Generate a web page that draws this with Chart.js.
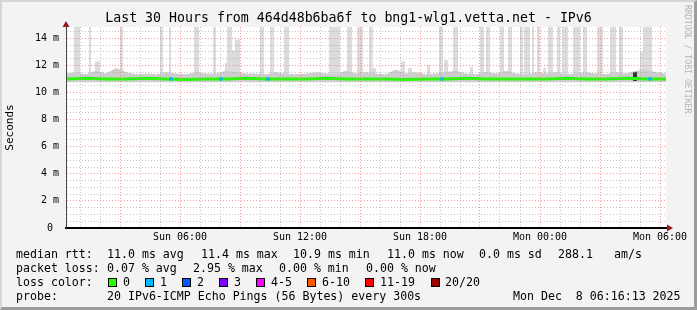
<!DOCTYPE html>
<html lang="en">
<head>
<meta charset="UTF-8">
<title>SmokePing - bng1-wlg1.vetta.net IPv6</title>
<script src="https://cdn.jsdelivr.net/npm/chart.js"></script>
<style>
  body { margin: 0; background: #f3f3f3; }
  #wrap { position: relative; width: 697px; height: 310px; background: #f3f3f3; overflow: hidden;
          font-family: 'DejaVu Sans Mono', monospace; }
  #wrap canvas { position: absolute; left: 0; top: 0; }
  .frame { position: absolute; left: 0; top: 0; width: 697px; height: 310px; box-sizing: border-box;
           border-top: 2px solid #d6d6d6; border-left: 2px solid #d6d6d6;
           border-right: 3px solid #9c9c9c; border-bottom: 3px solid #9c9c9c; pointer-events: none; }
  .lg { position: absolute; font-size: 11.6px; line-height: 14px; color: #000; white-space: pre; }
  .box { position: absolute; top: 278px; width: 7px; height: 7px; border: 1px solid #000; }
  .mark { position: absolute; left: 684px; top: 5px; writing-mode: vertical-rl; font-size: 8.2px;
          line-height: 8px; color: #b4b4b4; white-space: pre; }
</style>
</head>
<body>
<div id="wrap">
  <canvas id="rtt" width="697" height="310"></canvas>

  <div class="lg" style="left:16px;top:247px">median rtt:</div>
  <div class="lg" style="left:107px;top:247px">11.0 ms avg</div>
  <div class="lg" style="left:201px;top:247px">11.4 ms max</div>
  <div class="lg" style="left:293px;top:247px">10.9 ms min</div>
  <div class="lg" style="left:387px;top:247px">11.0 ms now</div>
  <div class="lg" style="left:479px;top:247px">0.0 ms sd</div>
  <div class="lg" style="left:558px;top:247px">288.1</div>
  <div class="lg" style="left:614px;top:247px">am/s</div>

  <div class="lg" style="left:16px;top:261px">packet loss:</div>
  <div class="lg" style="left:107px;top:261px">0.07 % avg</div>
  <div class="lg" style="left:193px;top:261px">2.95 % max</div>
  <div class="lg" style="left:279px;top:261px">0.00 % min</div>
  <div class="lg" style="left:366px;top:261px">0.00 % now</div>

  <div class="lg" style="left:16px;top:275px">loss color:</div>
  <div class="box" style="left:108px;background:#26ff00"></div>
  <div class="lg" style="left:123px;top:275px">0</div>
  <div class="box" style="left:145px;background:#00b8ff"></div>
  <div class="lg" style="left:160px;top:275px">1</div>
  <div class="box" style="left:182px;background:#0059ff"></div>
  <div class="lg" style="left:197px;top:275px">2</div>
  <div class="box" style="left:219px;background:#7e00ff"></div>
  <div class="lg" style="left:234px;top:275px">3</div>
  <div class="box" style="left:256px;background:#ff00ff"></div>
  <div class="lg" style="left:271px;top:275px">4-5</div>
  <div class="box" style="left:307px;background:#ff5500"></div>
  <div class="lg" style="left:322px;top:275px">6-10</div>
  <div class="box" style="left:365px;background:#ff0000"></div>
  <div class="lg" style="left:380px;top:275px">11-19</div>
  <div class="box" style="left:431px;background:#a10000"></div>
  <div class="lg" style="left:445px;top:275px">20/20</div>

  <div class="lg" style="left:16px;top:289px">probe:</div>
  <div class="lg" style="left:107px;top:289px">20 IPv6-ICMP Echo Pings (56 Bytes) every 300s</div>
  <div class="lg" style="left:513px;top:289px">Mon Dec  8 06:16:13 2025</div>

  <div class="mark">RRDTOOL / TOBI OETIKER</div>
  <div class="frame"></div>
</div>

<script>
  // time axis in hours since Sun 00:00
  const startHour = 0.3;
  const endHour = 30.3;
  const xTickHours = [6, 12, 18, 24, 30];
  const xTickLabels = ['Sun 06:00', 'Sun 12:00', 'Sun 18:00', 'Mon 00:00', 'Mon 06:00'];
  const yTickValues = [0, 2, 4, 6, 8, 10, 12, 14];
  const yTickLabels = ['0 ', '2 m', '4 m', '6 m', '8 m', '10 m', '12 m', '14 m'];
  const yMax = 14.83;

  // smoke outliers: grey columns (hours from, hours to, top in ms)
  const spikeFrom = [0.70, 1.45, 1.75, 3.00, 5.00, 5.45, 6.70, 7.65, 8.25, 8.35, 8.60, 8.75, 10.00, 10.50, 11.20,
                     13.45, 14.35, 14.85, 15.45, 15.60, 17.05, 17.40, 18.35, 18.95, 19.20, 19.65, 20.50, 21.00, 21.30,
                     22.00, 22.40, 23.00, 23.20, 23.60, 23.85, 24.15, 24.40, 24.85, 25.10, 25.65, 26.15, 26.85,
                     27.50, 27.95, 29.00, 29.15];
  const spikeTo =   [1.00, 1.55, 2.00, 3.15, 5.15, 5.55, 6.95, 7.80, 8.35, 8.60, 8.75, 9.00, 10.20, 10.70, 11.45,
                     14.00, 14.60, 15.15, 15.65, 15.80, 17.25, 17.60, 18.50, 19.15, 19.40, 19.90, 20.65, 21.20, 21.50,
                     22.20, 22.60, 23.15, 23.50, 23.70, 24.00, 24.30, 24.65, 25.00, 25.40, 26.00, 26.35, 27.15,
                     27.80, 28.15, 29.15, 29.60];
  const spikeTop =  [15, 15, 12.3, 15, 15, 15, 15, 15, 12.2, 15, 13.1, 13.9, 15, 15, 15,
                     15, 15, 15, 15, 11.8, 12.3, 11.8, 12.0, 15, 12.4, 15, 11.9, 15, 15,
                     15, 15, 15, 15, 15, 15, 11.8, 15, 15, 15, 15, 15, 15,
                     15, 15, 13.0, 15];

  // low smoke around the median, every half hour from startHour
  const smokeTop = [11.4, 11.5, 11.35, 11.6, 11.4, 11.8, 11.5, 11.35, 11.4, 11.35, 11.5, 11.4, 11.35, 11.5, 11.4,
                    11.4, 11.6, 11.5, 11.4, 11.4, 11.35, 11.5, 11.4, 11.35, 11.4, 11.5, 11.4, 11.35, 11.6, 11.4,
                    11.5, 11.4, 11.35, 11.7, 11.4, 11.5, 11.35, 11.4, 11.5, 11.6, 11.4, 11.35, 11.5, 11.4, 11.6,
                    11.4, 11.35, 11.5, 11.4, 11.5, 11.35, 11.4, 11.5, 11.4, 11.35, 11.5, 11.4, 11.6, 11.7, 11.5, 11.4];

  // median rtt (ms), hourly from startHour
  const medianRtt = [11.0, 11.05, 11.0, 11.0, 11.05, 11.0, 10.95, 11.0, 11.0, 11.05, 11.0, 11.0, 11.0, 11.05, 11.0,
                     11.0, 11.0, 10.95, 11.0, 11.0, 11.05, 11.0, 11.0, 11.0, 11.0, 11.05, 11.0, 11.0, 11.05, 11.0, 11.0];

  // samples that lost 1 of 20 pings
  const lossHours = [5.55, 8.05, 10.4, 19.1, 29.5];
  const lossRtt = [11.0, 11.0, 11.0, 11.0, 11.0];

  // dark outlier blob near the end
  const darkFrom = [28.65];
  const darkTo = [28.85];
  const darkTop = [11.5];

  const mono = 'DejaVu Sans Mono';
  const base = 10.85;

  function columns(from, to, top) {
    const idx = from.map((f, i) => i).sort((a, b) => from[a] - from[b]);
    const pts = [{x: startHour, y: base}];
    idx.forEach(i => {
      pts.push({x: from[i], y: base}, {x: from[i], y: top[i]}, {x: to[i], y: top[i]}, {x: to[i], y: base});
    });
    pts.push({x: endHour, y: base});
    return pts;
  }

  const smokePts = smokeTop.map((v, i) => ({x: startHour + i * 0.5, y: v}));
  const medianPts = medianRtt.map((v, i) => ({x: startHour + i, y: v}));
  const lossPts = lossHours.map((h, i) => ({x: h, y: lossRtt[i]}));

  const plotBg = {
    id: 'plotBg',
    beforeDraw(chart) {
      const a = chart.chartArea, c = chart.ctx;
      c.save();
      c.fillStyle = '#ffffff';
      c.fillRect(a.left, a.top, a.right - a.left, a.bottom - a.top);
      c.restore();
    }
  };

  const arrows = {
    id: 'arrows',
    afterDraw(chart) {
      const a = chart.chartArea, c = chart.ctx;
      c.save();
      c.fillStyle = '#9a1a1a';
      c.beginPath();
      c.moveTo(a.left - 3.5, a.top);
      c.lineTo(a.left + 3.5, a.top);
      c.lineTo(a.left, a.top - 6);
      c.closePath();
      c.fill();
      c.beginPath();
      c.moveTo(a.right + 1, a.bottom - 3.5);
      c.lineTo(a.right + 1, a.bottom + 3.5);
      c.lineTo(a.right + 7, a.bottom);
      c.closePath();
      c.fill();
      c.restore();
    }
  };

  const red = 'rgba(240, 120, 120, 0.75)';
  const grey = 'rgba(150, 150, 150, 0.55)';

  new Chart(document.getElementById('rtt'), {
    type: 'line',
    data: {
      datasets: [
        {
          label: 'loss 1/20',
          data: lossPts,
          showLine: false,
          pointStyle: 'rect',
          pointRadius: 2.4,
          pointBorderWidth: 0,
          pointBackgroundColor: '#00b8ff',
          order: 0
        },
        {
          label: 'median rtt',
          data: medianPts,
          borderColor: '#26ff00',
          borderWidth: 3,
          pointRadius: 0,
          order: 1
        },
        {
          label: 'outlier',
          data: columns(darkFrom, darkTo, darkTop),
          borderColor: 'transparent',
          borderWidth: 0,
          pointRadius: 0,
          backgroundColor: '#2e3a2e',
          fill: {value: base},
          order: 2
        },
        {
          label: 'smoke',
          data: smokePts,
          borderColor: 'transparent',
          borderWidth: 0,
          pointRadius: 0,
          backgroundColor: '#cdcdcd',
          fill: {value: 10.75},
          order: 4
        },
        {
          label: 'outliers',
          data: columns(spikeFrom, spikeTo, spikeTop),
          borderColor: 'transparent',
          borderWidth: 0,
          pointRadius: 0,
          backgroundColor: '#dcdcdc',
          fill: {value: base},
          order: 5
        }
      ]
    },
    options: {
      responsive: false,
      animation: false,
      events: [],
      // symmetric side padding keeps the title centred on the image
      layout: { padding: { left: 31, right: 31, top: 0, bottom: 62 } },
      plugins: {
        legend: { display: false },
        tooltip: { enabled: false },
        title: {
          display: true,
          text: 'Last 30 Hours from 464d48b6ba6f to bng1-wlg1.vetta.net - IPv6',
          color: '#000',
          font: { family: mono, size: 13.25, weight: 'normal' },
          padding: { top: 11, bottom: 0.1 }
        }
      },
      scales: {
        x: {
          type: 'linear',
          min: startHour,
          max: endHour,
          afterFit: s => { s.height = 20; },
          afterBuildTicks: s => {
            const t = [];
            for (let h = 1; h <= 30; h++) t.push({value: h});
            s.ticks = t;
          },
          ticks: {
            autoSkip: false,
            maxRotation: 0,
            padding: 3,
            color: '#000',
            font: { family: mono, size: 10 },
            callback: v => {
              const i = xTickHours.indexOf(v);
              return i < 0 ? '' : xTickLabels[i];
            }
          },
          grid: {
            drawTicks: false,
            z: 1,
            lineWidth: 1,
            color: c => (c.tick && c.tick.value % 3 === 0) ? red : grey
          },
          border: { display: true, color: '#000', width: 2, dash: [1, 2], z: 2 }
        },
        y: {
          min: 0,
          max: yMax,
          afterFit: s => { s.width = 35; },
          afterBuildTicks: s => {
            const t = [];
            for (let v = 0; v < yMax; v += 0.5) t.push({value: v});
            s.ticks = t;
          },
          title: {
            display: true,
            text: 'Seconds',
            color: '#000',
            font: { family: mono, size: 11 },
            padding: { top: -27, bottom: 0 }
          },
          ticks: {
            autoSkip: false,
            padding: 7,
            color: '#000',
            font: { family: mono, size: 10 },
            callback: v => {
              const i = yTickValues.indexOf(v);
              return i < 0 ? '' : yTickLabels[i];
            }
          },
          grid: {
            drawTicks: false,
            z: 1,
            lineWidth: c => (c.tick && c.tick.value === 0) ? 0 : 1,
            color: c => (c.tick && c.tick.value % 2 === 0) ? red : grey
          },
          border: { display: true, color: '#444', width: 1, dash: [1, 2], z: 2 }
        }
      }
    },
    plugins: [plotBg, arrows]
  });
</script>
</body>
</html>
